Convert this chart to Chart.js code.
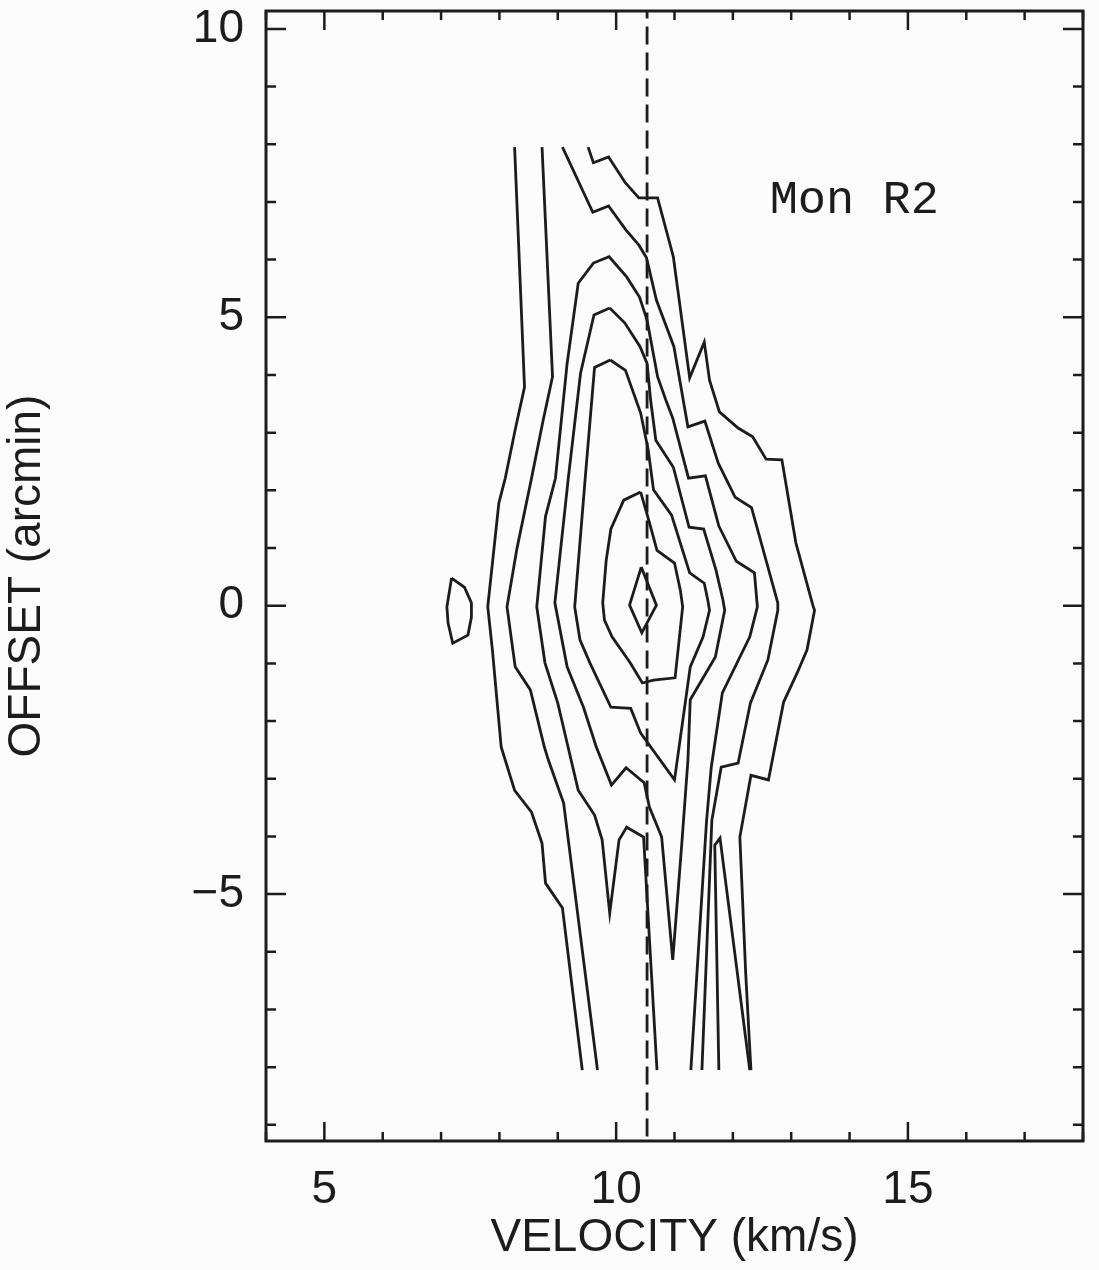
<!DOCTYPE html>
<html>
<head>
<meta charset="utf-8">
<title>Mon R2 position-velocity</title>
<script src="https://cdn.jsdelivr.net/npm/chart.js@4.4.0/dist/chart.umd.min.js"></script>
<style>
  html, body { margin: 0; padding: 0; background: #fcfcfc; }
  canvas { display: block; }
</style>
</head>
<body>
<canvas id="pvPlot" width="1099" height="1270"></canvas>
<script>
// axis ticks
const velTicks = [5, 10, 15];
const offTicks = [-5, 0, 5, 10];

// contour vertices, [velocity km/s, offset arcmin]
const outerLeft = [[8.26,7.95],[8.43,3.79],[8.27,3.05],[8.10,2.21],[7.99,1.78],[7.80,-0.02],[7.88,-0.77],[8.03,-2.45],[8.26,-3.20],[8.55,-3.58],[8.73,-4.12],[8.79,-4.81],[9.08,-5.24],[9.42,-8.05]];
const outerRight = [[9.52,7.95],[9.61,7.68],[9.87,7.78],[10.16,7.33],[10.39,7.07],[10.71,7.07],[10.98,6.05],[11.26,3.95],[11.51,4.57],[11.60,3.91],[11.77,3.36],[12.09,3.08],[12.34,2.93],[12.57,2.54],[12.84,2.53],[13.08,1.09],[13.37,0.01],[13.40,-0.08],[13.27,-0.77],[13.10,-1.17],[12.87,-1.67],[12.61,-3.02],[12.31,-2.94],[12.12,-4.01],[12.22,-6.37],[12.31,-8.05]];
const islet = [[7.18,0.48],[7.40,0.32],[7.52,0.05],[7.52,-0.20],[7.46,-0.51],[7.20,-0.65],[7.12,-0.30],[7.10,-0.02],[7.18,0.48]];
const secondLeft = [[8.73,7.95],[8.91,3.97],[8.75,3.22],[8.55,2.21],[8.30,0.99],[8.13,-0.02],[8.27,-1.06],[8.53,-1.46],[8.77,-2.45],[8.84,-2.68],[9.10,-3.42],[9.68,-8.05]];
const secondRight = [[9.08,7.95],[9.60,6.82],[9.87,6.93],[10.17,6.51],[10.39,6.25],[10.52,6.03],[10.69,5.30],[10.99,4.49],[11.23,3.10],[11.52,3.20],[11.75,2.47],[12.04,1.88],[12.32,1.70],[12.77,0.05],[12.77,-0.08],[12.60,-0.94],[12.30,-1.69],[12.09,-2.73],[11.80,-2.80],[11.64,-3.72],[11.47,-8.05]];
const secondTongue = [[11.76,-8.05],[11.69,-4.15],[11.78,-4.03],[12.29,-8.05]];
const third = [[10.70,-8.05],[10.47,-4.01],[10.18,-3.84],[10.05,-4.06],[9.89,-5.33],[9.76,-4.06],[9.63,-3.63],[9.35,-3.20],[9.16,-2.38],[9.00,-1.69],[8.78,-0.99],[8.64,-0.02],[8.79,1.55],[8.96,2.21],[9.16,4.20],[9.35,5.59],[9.61,5.94],[9.88,6.05],[10.18,5.70],[10.40,5.35],[10.53,4.95],[10.71,3.97],[10.85,3.57],[10.97,3.25],[11.24,2.21],[11.53,2.25],[11.76,1.38],[12.06,0.77],[12.37,0.57],[12.42,-0.02],[12.29,-0.54],[11.82,-1.51],[11.63,-2.80],[11.55,-3.72],[11.28,-8.05]];
const fourth = [[9.89,5.16],[9.62,5.04],[9.39,4.03],[9.18,2.21],[8.95,0.05],[9.16,-1.06],[9.44,-1.76],[9.66,-2.45],[9.92,-3.11],[10.17,-2.81],[10.48,-3.07],[10.57,-3.49],[10.78,-4.01],[10.97,-6.14],[11.13,-4.06],[11.23,-2.68],[11.27,-1.63],[11.70,-0.89],[11.86,-0.08],[11.83,0.10],[11.71,0.62],[11.50,1.33],[11.25,1.36],[10.98,2.40],[10.68,2.87],[10.59,3.57],[10.53,4.20],[10.41,4.49],[10.15,4.90],[9.89,5.16]];
const fifth = [[9.90,4.26],[9.63,4.13],[9.47,2.21],[9.29,-0.02],[9.38,-0.59],[9.55,-0.99],[9.91,-1.76],[10.25,-1.78],[10.42,-2.21],[11.00,-3.02],[11.27,-1.06],[11.49,-0.54],[11.60,-0.08],[11.57,0.10],[11.51,0.39],[11.26,0.57],[10.95,1.57],[10.64,2.01],[10.55,2.70],[10.42,3.34],[10.16,4.08],[9.90,4.26]];
const sixth = [[10.42,1.97],[10.13,1.83],[9.91,1.33],[9.83,0.79],[9.77,0.05],[9.80,-0.25],[9.93,-0.54],[10.24,-0.99],[10.45,-1.34],[10.64,-1.29],[11.01,-1.25],[11.14,-0.02],[11.10,0.27],[11.00,0.74],[10.70,0.96],[10.56,1.48],[10.42,1.97]];
const peak = [[10.43,0.67],[10.69,0.01],[10.44,-0.47],[10.23,0.01],[10.43,0.67]];

// systemic velocity marker
const vSys = 10.53;
const vSysSpan = [-9.2, 10.31];

const ink = '#1c1c1c';
const sansFont = "'Liberation Sans', Arial, Helvetica, sans-serif";

const contours = [outerLeft, outerRight, islet, secondLeft, secondRight, secondTongue, third, fourth, fifth, sixth, peak];

const datasets = contours.map(pts => ({
    data: pts.map(p => ({ x: p[0], y: p[1] })),
    showLine: true,
    borderColor: ink,
    borderWidth: 2.8,
    pointRadius: 0,
    tension: 0,
    fill: false
}));

datasets.push({
    data: vSysSpan.map(o => ({ x: vSys, y: o })),
    showLine: true,
    borderColor: ink,
    borderWidth: 2.8,
    borderDash: [18, 8],
    pointRadius: 0
});

// drop the extra room chart.js keeps for edge labels, the box is sized by hand
function noEdgePadding(s) {
    s.paddingTop = 0;
    s.paddingBottom = 0;
    s.paddingLeft = 0;
    s.paddingRight = 0;
}

// box around the plot with inward ticks on every side, plus the source name
const frameTicks = {
    id: 'frameTicks',
    beforeDraw(chart) {
        const ctx = chart.ctx;
        ctx.save();
        ctx.fillStyle = '#fcfcfc';
        ctx.fillRect(0, 0, chart.width, chart.height);
        ctx.restore();
    },
    afterDraw(chart) {
        const { ctx, chartArea: a, scales: { x, y } } = chart;
        ctx.save();
        ctx.strokeStyle = ink;
        ctx.lineWidth = 3;
        ctx.strokeRect(a.left, a.top, a.right - a.left, a.bottom - a.top);

        ctx.lineWidth = 2.5;
        ctx.beginPath();
        for (let v = Math.ceil(x.min); v <= x.max; v++) {
            const px = x.getPixelForValue(v);
            const len = v % 5 === 0 ? 19 : 9;
            ctx.moveTo(px, a.bottom); ctx.lineTo(px, a.bottom - len);
            ctx.moveTo(px, a.top); ctx.lineTo(px, a.top + len);
        }
        for (let o = Math.ceil(y.min); o <= y.max; o++) {
            const py = y.getPixelForValue(o);
            const len = o % 5 === 0 ? 20 : 10;
            ctx.moveTo(a.left, py); ctx.lineTo(a.left + len, py);
            ctx.moveTo(a.right, py); ctx.lineTo(a.right - len, py);
        }
        ctx.stroke();

        ctx.fillStyle = ink;
        ctx.font = "47px 'Liberation Mono', 'Courier New', monospace";
        ctx.textAlign = 'center';
        ctx.textBaseline = 'middle';
        ctx.fillText('Mon R2', x.getPixelForValue(14.08), y.getPixelForValue(7.02));
        ctx.restore();
    }
};

new Chart(document.getElementById('pvPlot'), {
    type: 'scatter',
    data: { datasets: datasets },
    options: {
        responsive: false,
        animation: false,
        layout: { padding: { top: 11, right: 16, left: 0, bottom: 0 } },
        plugins: {
            legend: { display: false },
            tooltip: { enabled: false }
        },
        scales: {
            x: {
                type: 'linear',
                min: 4,
                max: 18,
                afterBuildTicks: s => { s.ticks = velTicks.map(v => ({ value: v })); },
                afterFit: s => { s.height = 129; noEdgePadding(s); },
                grid: { display: false, drawTicks: false },
                border: { display: false },
                ticks: { padding: 22, color: ink, font: { family: sansFont, size: 46 }, maxRotation: 0, autoSkip: false },
                title: { display: true, text: 'VELOCITY (km/s)', color: ink, font: { family: sansFont, size: 46 }, padding: { top: 0, bottom: 4 } }
            },
            y: {
                type: 'linear',
                min: -9.28,
                max: 10.31,
                afterBuildTicks: s => { s.ticks = offTicks.map(v => ({ value: v })); },
                afterFit: s => { s.width = 266; noEdgePadding(s); },
                grid: { display: false, drawTicks: false },
                border: { display: false },
                ticks: {
                    padding: 22,
                    color: ink,
                    font: { family: sansFont, size: 46 },
                    autoSkip: false,
                    callback: v => v < 0 ? '\u2212' + Math.abs(v) : String(v)
                },
                title: { display: true, text: 'OFFSET (arcmin)', color: ink, font: { family: sansFont, size: 46 }, padding: { top: 0, bottom: 10 } }
            }
        }
    },
    plugins: [frameTicks]
});
</script>
</body>
</html>
